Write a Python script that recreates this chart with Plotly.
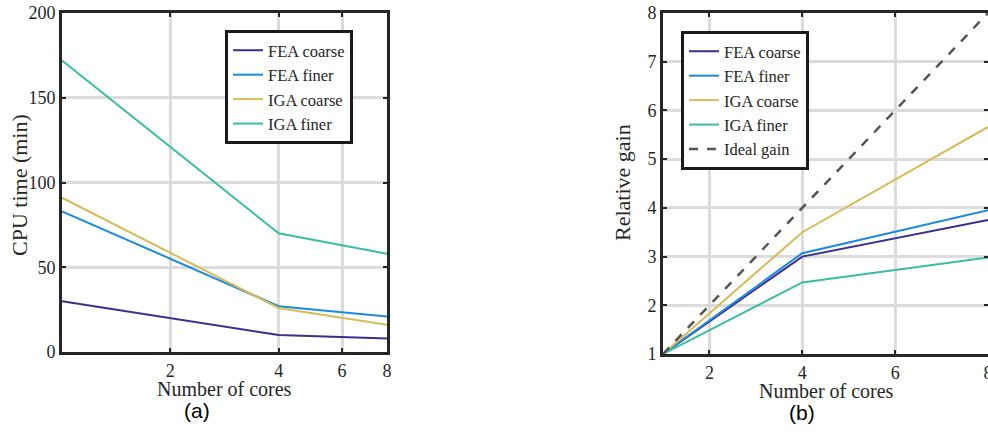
import plotly.graph_objects as go

cores = [1, 4, 8]
series_names = ["FEA coarse", "FEA finer", "IGA coarse", "IGA finer"]
cpu_fea_coarse = [30, 10, 8]
cpu_fea_finer = [83, 27, 21]
cpu_iga_coarse = [91, 26, 16]
cpu_iga_finer = [172, 70, 58]
gain_fea_coarse = [1, 3.0, 3.75]
gain_fea_finer = [1, 3.07, 3.95]
gain_iga_coarse = [1, 3.5, 5.66]
gain_iga_finer = [1, 2.47, 2.98]
ideal_cores = [1, 8]
ideal_gain = [1, 8]
colors = ["#3a2f8e", "#1b8be0", "#d8bb58", "#38bf9f"]

W, H = 988, 432
def px(x): return x / W
def py(y): return 1 - y / H

serif = "Liberation Serif"
fig = go.Figure()

cpu = [cpu_fea_coarse, cpu_fea_finer, cpu_iga_coarse, cpu_iga_finer]
gain = [gain_fea_coarse, gain_fea_finer, gain_iga_coarse, gain_iga_finer]
for name, vals, c in zip(series_names, cpu, colors):
    fig.add_trace(go.Scatter(x=cores, y=vals, mode="lines", name=name,
                             line=dict(color=c, width=2), xaxis="x", yaxis="y",
                             legend="legend"))
for name, vals, c in zip(series_names, gain, colors):
    fig.add_trace(go.Scatter(x=cores, y=vals, mode="lines", name=name,
                             line=dict(color=c, width=2), xaxis="x2", yaxis="y2",
                             legend="legend2"))
fig.add_trace(go.Scatter(x=ideal_cores, y=ideal_gain, mode="lines", name="Ideal gain",
                         line=dict(color="#555555", width=2.5, dash="dash"),
                         xaxis="x2", yaxis="y2", legend="legend2"))

axcommon = dict(showline=True, linecolor="#262626", linewidth=3, mirror="allticks",
                ticks="inside", ticklen=4, tickwidth=2, tickcolor="#262626",
                showgrid=True, gridcolor="#dcdcdc", gridwidth=3, zeroline=False,
                automargin=False, ticklabeloverflow="allow",
                tickfont=dict(family=serif, size=18, color="#262626"))

title_font = dict(family=serif, size=20, color="#262626")

def ann(text, x, y, font, angle=0):
    return dict(text=text, x=px(x), y=py(y), xref="paper", yref="paper",
                xanchor="center", yanchor="middle", textangle=angle,
                showarrow=False, font=font)

fig.update_layout(
    width=W, height=H, margin=dict(l=0, r=0, t=0, b=0),
    paper_bgcolor="white", plot_bgcolor="white",
    xaxis=dict(axcommon, type="log", range=[0, 0.90309], domain=[px(62), px(387)],
               tickvals=[2, 4, 6, 8], ticktext=["2", "4", "6", "8"], anchor="y"),
    yaxis=dict(axcommon, range=[0, 200], domain=[py(352), py(13)],
               tickvals=[0, 50, 100, 150, 200], anchor="x"),
    xaxis2=dict(axcommon, range=[1, 8], domain=[px(663), 1.0],
                tickvals=[2, 4, 6, 8], anchor="y2"),
    yaxis2=dict(axcommon, range=[1, 8], domain=[py(354), py(13)],
                tickvals=[1, 2, 3, 4, 5, 6, 7, 8], anchor="x2"),
    legend=dict(x=px(225), y=py(30), xanchor="left", yanchor="top",
                bgcolor="white", bordercolor="#1a1a1a", borderwidth=3,
                font=dict(family=serif, size=16.5, color="#262626"),
                tracegroupgap=0, itemwidth=30),
    legend2=dict(x=px(681), y=py(31), xanchor="left", yanchor="top",
                 bgcolor="white", bordercolor="#1a1a1a", borderwidth=3,
                 font=dict(family=serif, size=16.5, color="#262626"),
                 tracegroupgap=0, itemwidth=30),
    showlegend=True,
    annotations=[
        ann("Number of cores", 224, 389, title_font),
        ann("Number of cores", 826, 391, title_font),
        ann("CPU time (min)", 20, 185, dict(title_font, size=22), -90),
        ann("Relative gain", 622, 183, dict(title_font, size=22), -90),
        ann("(a)", 197, 410, dict(family="Liberation Sans", size=21, color="black")),
        ann("(b)", 802, 412, dict(family="Liberation Sans", size=21, color="black")),
    ],
)

fig.write_html("out.html")
